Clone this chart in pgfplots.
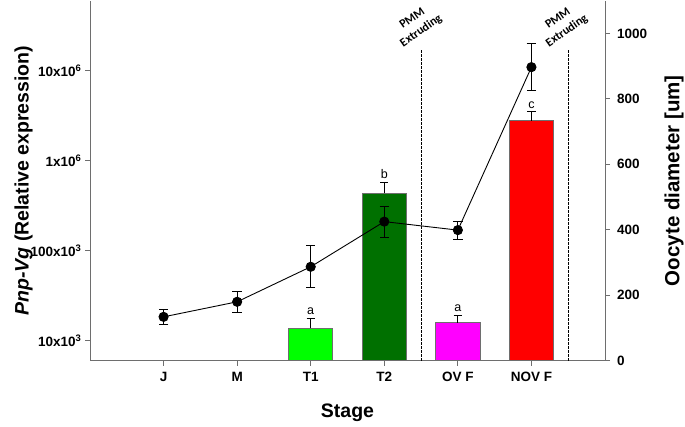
\documentclass[border=0pt]{standalone}
\usepackage{pgfplots}
\pgfplotsset{compat=1.18}
\usepackage{fontspec}
\setmainfont{Liberation Sans}
\newfontfamily\calibri{Carlito}
\definecolor{axgray}{RGB}{110,110,110}
\definecolor{lgreen}{RGB}{0,255,0}
\definecolor{dgreen}{RGB}{0,112,0}
\definecolor{mag}{RGB}{255,0,255}
\definecolor{rd}{RGB}{255,0,0}
\begin{document}
\begin{tikzpicture}
\pgfplotsset{
 common/.style={scale only axis, width=515pt, height=360pt, xmin=-1, xmax=6, clip=false,
   axis line style={draw=axgray, line width=1pt},
   tick style={draw=axgray, line width=1pt},
   tick align=outside, major tick length=5pt,
   ticklabel style={font=\fontsize{13.5}{15}\selectfont\bfseries},
 },
 barerr/.style={error bars/.cd, y dir=plus, y explicit,
   error bar style={black, line width=0.8pt},
   error mark options={rotate=90, black, mark size=4.2pt, line width=0.8pt}},
}
\begin{axis}[common, name=ax,
  ymode=log, ymin=6000, ymax=6e7, log origin=infty,
  axis x line*=bottom, axis y line*=left,
  xtick={0,...,5}, xticklabels={J,M,T1,T2,OV F,NOV F},
  xticklabel style={yshift=-3pt},
  ytick={1e4,1e5,1e6,1e7},
  yticklabels={10x10\textsuperscript{3},100x10\textsuperscript{3},1x10\textsuperscript{6},10x10\textsuperscript{6}},
  yminorticks=false,
  xlabel={Stage},
  xlabel style={at={(axis description cs:0.5,-0.1439)}, anchor=center, font=\fontsize{19.5}{22}\selectfont\bfseries},
  ylabel={\textit{Pnp-Vg} (Relative expression)},
  ylabel style={at={(axis description cs:-0.1291,0.5)}, anchor=center, rotate=0, font=\fontsize{19.5}{22}\selectfont\bfseries},
]
\addplot[ybar, bar shift=0pt, bar width=0.6, fill=lgreen, draw=axgray, line width=0.6pt, barerr] coordinates {(2,13700) +- (0,4000)};
\addplot[ybar, bar shift=0pt, bar width=0.6, fill=dgreen, draw=axgray, line width=0.6pt, barerr] coordinates {(3,434000) +- (0,141000)};
\addplot[ybar, bar shift=0pt, bar width=0.6, fill=mag, draw=axgray, line width=0.6pt, barerr] coordinates {(4,15850) +- (0,3450)};
\addplot[ybar, bar shift=0pt, bar width=0.6, fill=rd, draw=axgray, line width=0.6pt, barerr] coordinates {(5,2780000) +- (0,720000)};
\node[anchor=base, yshift=3.5pt, font=\fontsize{12.5}{14}\selectfont] at (axis cs:2,17700) {a};
\node[anchor=base, yshift=3.5pt, font=\fontsize{12.5}{14}\selectfont] at (axis cs:3,575000) {b};
\node[anchor=base, yshift=3.5pt, font=\fontsize{12.5}{14}\selectfont] at (axis cs:4,19300) {a};
\node[anchor=base, yshift=3.5pt, font=\fontsize{12.5}{14}\selectfont] at (axis cs:5,3500000) {c};
\end{axis}
\begin{axis}[common,
  ymin=0, ymax=1100,
  axis x line=none, axis y line*=right,
  ytick={0,200,...,1000}, yticklabels={0,200,400,600,800,1000},
  yticklabel style={xshift=3.5pt},
  ylabel={Oocyte diameter [um]},
  ylabel style={at={(axis description cs:1.134,0.5)}, anchor=center, rotate=0, font=\fontsize{20.5}{23}\selectfont\bfseries},
]
\addplot[black, line width=0.6pt, dashed, dash pattern=on 2.5pt off 1.5pt, forget plot] coordinates {(3.5,0) (3.5,949)};
\addplot[black, line width=0.6pt, dashed, dash pattern=on 2.5pt off 1.5pt, forget plot] coordinates {(5.5,0) (5.5,949)};
\addplot[black, line width=0.9pt, mark=*, mark size=4.6pt, mark options={fill=black, solid},
  error bars/.cd, y dir=both, y explicit,
  error bar style={black, line width=0.8pt},
  error mark options={rotate=90, black, mark size=4.7pt, line width=0.8pt}] coordinates {
(0,134) +- (0,24)
(1,180) +- (0,33)
(2,287) +- (0,64)
(3,425) +- (0,47)
(4,399) +- (0,28)
(5,897) +- (0,71)
};
\node[rotate=35, align=center, font=\calibri\bfseries\fontsize{12}{15.5}\selectfont] at (axis cs:3.444,1026) {PMM\\Extruding};
\node[rotate=35, align=center, font=\calibri\bfseries\fontsize{12}{15.5}\selectfont] at (axis cs:5.424,1026) {PMM\\Extruding};
\end{axis}
\pgfresetboundingbox
\path[use as bounding box] ([shift={(-90pt,-65.3pt)}]ax.south west) rectangle ([shift={(80pt,0.7pt)}]ax.north east);
\end{tikzpicture}
\end{document}
